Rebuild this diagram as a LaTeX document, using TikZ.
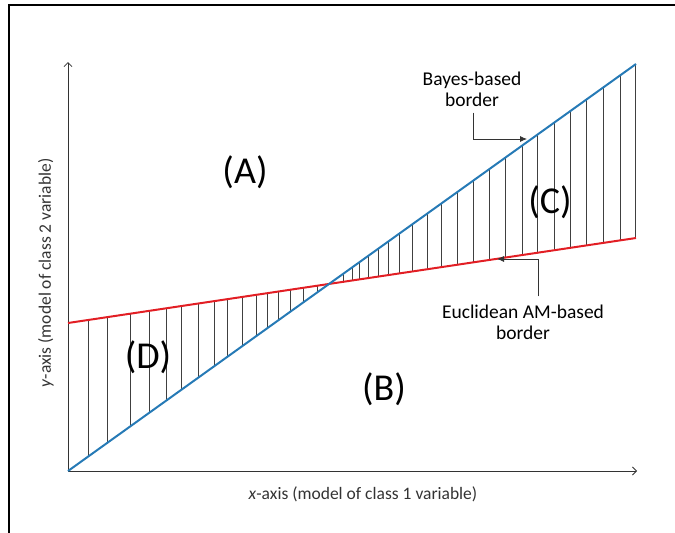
\documentclass[tikz,border=0pt]{standalone}
\usepackage{fontspec}
\setmainfont{Carlito}
\usetikzlibrary{arrows.meta,positioning,calc}

\definecolor{bayesblue}{RGB}{38,122,182}
\definecolor{amred}{RGB}{226,30,36}

\begin{document}
\begin{tikzpicture}[
    x=1pt, y=-1pt,
    frame/.style={draw=black, line width=2pt},
    axis/.style={draw=black!80, line width=0.8pt, -{Straight Barb[length=4pt,width=8pt]}},
    bayes/.style={draw=bayesblue, line width=2pt},
    euclid/.style={draw=amred, line width=2pt},
    hatch/.style={draw=black!75, line width=0.7pt},
    region/.style={inner sep=0pt, font=\fontsize{38}{40}\selectfont},
    note/.style={align=center, inner sep=0pt, font=\fontsize{19.5}{21}\selectfont},
    axislabel/.style={inner sep=0pt, text=black!80, font=\fontsize{17.5}{19}\selectfont},
    pointer/.style={draw=black!80, line width=0.8pt, -{Latex[length=7pt,width=6pt]}}
  ]
    \useasboundingbox (0,0) rectangle (675,533);
    \draw[frame] (9,533) -- (9,5) -- (675,5);

    % axes
    \coordinate (o) at (68,471);
    \coordinate (xend) at (637,471);
    \coordinate (yend) at (68,62);
    \draw[axis] (o) -- (xend);
    \draw[axis] (o) -- (yend);

    % the two borders
    \coordinate (b0) at (68,471);
    \coordinate (b1) at (636,64);
    \coordinate (r0) at (68,323);
    \coordinate (r1) at (636,238);

    \foreach \hx in {88,107,130,149,166,181,198,214,227,242,256,267,278,290,303,317,
                     343,352,359,368,378,388,399,412,427,441,457,473,489,505,522,537,554,570,586,603,620,635}{
      \pgfmathsetmacro{\hpos}{(\hx-68)/568}
      \draw[hatch] ($(r0)!\hpos!(r1)$) -- ($(b0)!\hpos!(b1)$);
    }

    \draw[euclid] (r0) -- (r1);
    \draw[bayes] (b0) -- (b1);

    % regions
    \node[region] (A) at (245,172) {(A)};
    \node[region] (B) at (384,389) {(B)};
    \node[region] (C) at (550,202) {(C)};
    \node[region] (D) at (148,357) {(D)};

    % border notes
    \node[note] (bayesnote) at (472,89) {Bayes-based\\border};
    \node[note] (euclidnote) at (523,322) {Euclidean AM-based\\border};
    \coordinate (bayestip) at (527,139);
    \coordinate (euclidtip) at (497,259);
    \draw[pointer] ([xshift=1pt,yshift=-6pt]bayesnote.south) |- (bayestip);
    \draw[pointer] ([xshift=15pt,yshift=8pt]euclidnote.north) |- (euclidtip);

    % axis labels
    \node[axislabel] (xlabel) at (363,494) {\textit{x}-axis (model of class 1 variable)};
    \node[axislabel, rotate=90] (ylabel) at (46,273) {\textit{y}-axis (model of class 2 variable)};
  \end{tikzpicture}
\end{document}
